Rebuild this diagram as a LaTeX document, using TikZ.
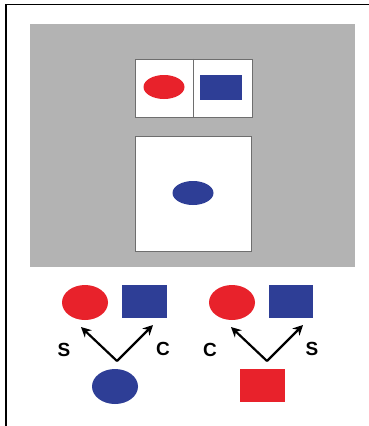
\documentclass[tikz,border=0pt]{standalone}
\usepackage{fontspec}
\setmainfont{Liberation Sans}
\usetikzlibrary{arrows.meta,shapes.geometric}
\definecolor{sred}{HTML}{E8222B}
\definecolor{sblue}{HTML}{2E3E96}
\definecolor{sgray}{HTML}{B3B3B3}
\definecolor{frameline}{HTML}{6E6E6E}
\begin{document}
\begin{tikzpicture}[x=1pt,y=-1pt,
  redell/.style={ellipse, fill=sred, inner sep=0pt, minimum width=#1},
  blueell/.style={ellipse, fill=sblue, inner sep=0pt, minimum width=#1},
  redbox/.style={rectangle, fill=sred, inner sep=0pt},
  bluebox/.style={rectangle, fill=sblue, inner sep=0pt},
  panel/.style={rectangle, draw=frameline, line width=1pt, fill=white, inner sep=0pt},
  lab/.style={font=\fontsize{19}{19}\selectfont\bfseries, inner sep=0pt},
  arr/.style={line width=2.2pt, -{Stealth[length=10pt,width=10pt]}}]
\useasboundingbox (0,0) rectangle (369,426);
\fill[white] (0,0) rectangle (369,426);
\draw[line width=1.5pt] (6,426) -- (6,4.5) -- (369,4.5);
% gray stage
\node[rectangle, fill=sgray, inner sep=0pt, minimum width=325pt, minimum height=243pt] (stage) at (192.5,145.5) {};
% top panel
\node[panel, minimum width=117pt, minimum height=58pt] (top) at (193.5,88) {};
\draw[frameline, line width=1pt] (top.north) -- (top.south);
\node[redell=41pt, minimum height=24pt] (e1) at (164,87) {};
\node[bluebox, minimum width=42pt, minimum height=25pt] (r1) at (221,87.5) {};
% bottom panel
\node[panel, minimum width=116pt, minimum height=115pt] (bot) at (193,193.5) {};
\node[blueell=41pt, minimum height=24pt] (e2) at (193,193) {};
% lower left group
\node[redell=46pt, minimum height=35pt] (le1) at (85,302.5) {};
\node[bluebox, minimum width=45pt, minimum height=33pt] (lr1) at (144.5,301.5) {};
\node[blueell=46pt, minimum height=35pt] (le2) at (115,386.5) {};
\coordinate (la) at (117,361);
\coordinate (lt1) at (81,327);
\coordinate (lt2) at (153,325);
\draw[arr] (la) -- (lt1);
\draw[arr] (la) -- (lt2);
\node[lab] (ls) at (64,350) {S};
\node[lab] (lc) at (163,349) {C};
% lower right group
\node[redell=46pt, minimum height=35pt] (re1) at (232,302.5) {};
\node[bluebox, minimum width=44pt, minimum height=33pt] (rr1) at (291,301.5) {};
\node[redbox, minimum width=45pt, minimum height=33pt] (rr2) at (262.5,385.5) {};
\coordinate (ra) at (267,361);
\coordinate (rt1) at (231,327);
\coordinate (rt2) at (303,325);
\draw[arr] (ra) -- (rt1);
\draw[arr] (ra) -- (rt2);
\node[lab] (rc) at (210,350) {C};
\node[lab] (rs) at (312,349) {S};
\end{tikzpicture}
\end{document}
